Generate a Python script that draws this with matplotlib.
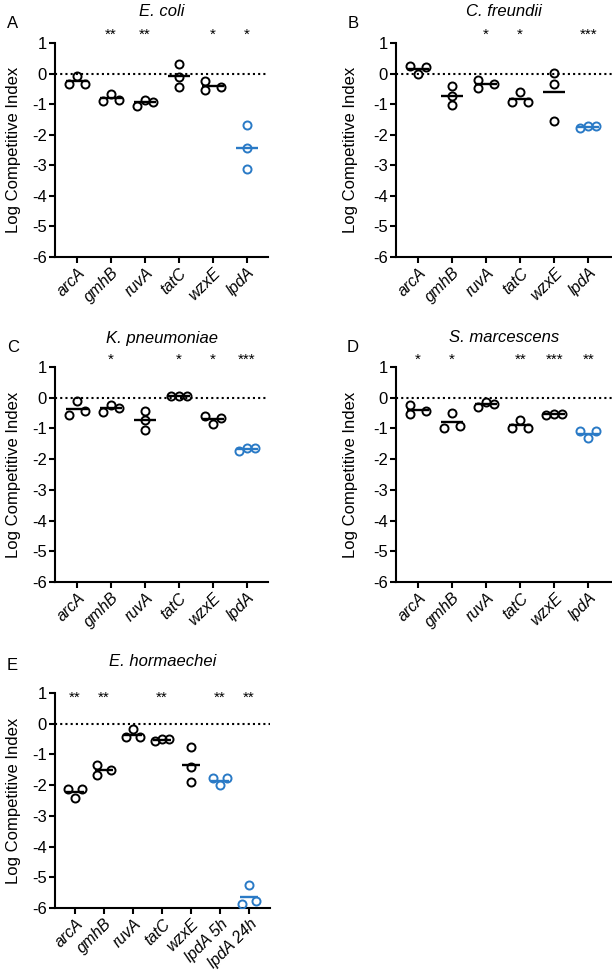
import matplotlib
matplotlib.use('Agg')
import matplotlib.pyplot as plt
import numpy as np

plt.rcParams['font.family'] = ['Liberation Sans', 'DejaVu Sans']
plt.rcParams['axes.unicode_minus'] = False

# ---- data (log competitive index, three replicates per mutant) ----
genes = ['arcA', 'gmhB', 'ruvA', 'tatC', 'wzxE', 'lpdA']
genes_eh = ['arcA', 'gmhB', 'ruvA', 'tatC', 'wzxE', 'lpdA 5h', 'lpdA 24h']

ecoli_vals = [[-0.07, -0.34, -0.34], [-0.66, -0.91, -0.86], [-0.85, -1.06, -0.92],
              [0.30, -0.13, -0.43], [-0.24, -0.45, -0.54], [-1.68, -2.45, -3.13]]
ecoli_sig = ['', '**', '**', '', '*', '*']

cfreundii_vals = [[-0.01, 0.24, 0.22], [-0.40, -0.74, -1.02], [-0.20, -0.34, -0.48],
                  [-0.60, -0.94, -0.94], [0.03, -0.33, -1.56], [-1.72, -1.77, -1.72]]
cfreundii_sig = ['', '', '*', '*', '', '***']

kpneu_vals = [[-0.11, -0.57, -0.43], [-0.25, -0.47, -0.32], [-0.43, -0.74, -1.04],
              [0.04, 0.04, 0.04], [-0.85, -0.61, -0.66], [-1.63, -1.73, -1.63]]
kpneu_sig = ['', '*', '', '*', '*', '***']

smarc_vals = [[-0.24, -0.44, -0.52], [-0.51, -0.98, -0.93], [-0.13, -0.29, -0.19],
              [-0.71, -1.00, -1.00], [-0.53, -0.56, -0.53], [-1.32, -1.10, -1.10]]
smarc_sig = ['*', '*', '', '**', '***', '**']

ehorm_vals = [[-2.42, -2.13, -2.13], [-1.36, -1.50, -1.66], [-0.17, -0.45, -0.45],
              [-0.49, -0.58, -0.49], [-0.76, -1.41, -1.91], [-2.01, -1.77, -1.77],
              [-5.26, -5.87, -5.76]]
ehorm_sig = ['**', '**', '', '**', '', '**', '**']

BLACK = 'black'
BLUE = '#2a7ac6'
W, H = 612, 976


def swarm_slots(vals, px_per_unit, d=8.0):
    # spread overlapping replicates into side columns, Prism-like
    slots = []
    for i, v in enumerate(vals):
        for s in (0, -1, 1, -2, 2):
            if all(not (slots[j] == s and abs(v - vals[j]) * px_per_unit < d) for j in range(i)):
                slots.append(s)
                break
    if set(slots) == {0, -1}:
        loner = [all(abs(v - w) * px_per_unit >= d for k, w in enumerate(vals) if k != i)
                 for i, v in enumerate(vals)]
        slots = [0 if (s == 0 and loner[i]) else (-1 if s == 0 else 1)
                 for i, s in enumerate(slots)]
    return slots


def draw_panel(fig, rect, labels, vals, sig, title, letter, title_px, letter_px,
               xlim, star_y, ylab_px):
    ax = fig.add_axes(rect)
    ax.set_xlim(*xlim)
    ax.set_ylim(-6, 1)
    px_per_unit = rect[3] * H / 7.0

    ax.axhline(0, color='black', lw=1.5, linestyle=(0, (1, 1.5)), zorder=1)

    for i, (name, reps) in enumerate(zip(labels, vals)):
        col = BLUE if name.startswith('lpdA') else BLACK
        slots = swarm_slots(reps, px_per_unit)
        xs = [i + 0.23 * s for s in slots]
        ax.plot(xs, reps, 'o', mfc='none', mec=col, ms=5.8, mew=1.4, zorder=3)
        ax.hlines(np.mean(reps), i - 0.32, i + 0.32, color=col, lw=1.7, zorder=4)
        if sig[i]:
            ax.text(i, star_y, sig[i], ha='center', va='baseline', fontsize=11,
                    clip_on=False)

    for side in ('top', 'right'):
        ax.spines[side].set_visible(False)
    for side in ('left', 'bottom'):
        ax.spines[side].set_linewidth(1.5)
    ax.set_yticks(range(-6, 2))
    ax.set_yticklabels([str(t) for t in range(-6, 2)], fontsize=12)
    ax.set_xticks(range(len(labels)))
    ax.set_xticklabels(labels, rotation=45, ha='right', rotation_mode='anchor',
                       fontstyle='italic', fontsize=11.5)
    ax.tick_params(axis='both', width=1.5, length=4, pad=2)
    ax.set_ylabel('Log Competitive Index', fontsize=12)
    ax.yaxis.set_label_coords(ylab_px / (rect[2] * W), 0.5)

    cx = rect[0] + rect[2] / 2
    fig.text(cx, 1 - title_px / H, title, ha='center', va='center',
             fontstyle='italic', fontsize=12)
    fig.text(letter_px[0] / W, 1 - letter_px[1] / H, letter, ha='center',
             va='center', fontsize=12)
    return ax


fig = plt.figure(figsize=(6.12, 9.76), dpi=100)

draw_panel(fig, [0.0899, 0.7367, 0.348, 0.2193], genes, ecoli_vals, ecoli_sig,
           'E. coli', 'A', 12, (13, 23), (-0.65, 5.62), 1.15, -34)
draw_panel(fig, [0.6471, 0.7367, 0.3529, 0.2193], genes, cfreundii_vals, cfreundii_sig,
           'C. freundii', 'B', 12, (353, 23), (-0.65, 5.7), 1.15, -38)
draw_panel(fig, [0.0899, 0.4037, 0.348, 0.2203], genes, kpneu_vals, kpneu_sig,
           'K. pneumoniae', 'C', 338, (13, 347), (-0.65, 5.62), 1.12, -34)
draw_panel(fig, [0.6471, 0.4037, 0.3529, 0.2203], genes, smarc_vals, smarc_sig,
           'S. marcescens', 'D', 338, (353, 347), (-0.65, 5.7), 1.12, -38)
draw_panel(fig, [0.0899, 0.0697, 0.3513, 0.2203], genes_eh, ehorm_vals, ehorm_sig,
           'E. hormaechei', 'E', 661, (12, 665), (-0.69, 6.72), 0.70, -34)

fig.savefig('out.png', dpi=100)
